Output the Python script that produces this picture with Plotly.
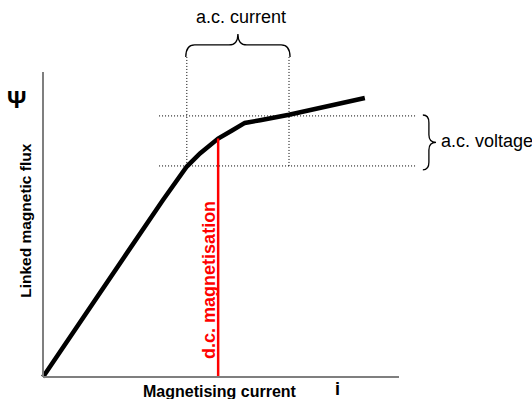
import plotly.graph_objects as go

# Magnetisation curve: linked flux psi versus magnetising current i
current = [0.0, 1.32, 2.36, 3.37, 3.75, 4.04, 4.41, 4.92, 5.31, 5.67, 6.10, 6.91, 9.04]
flux = [0.0, 2.30, 4.07, 5.80, 6.40, 6.90, 7.33, 7.82, 8.08, 8.33, 8.42, 8.60, 9.15]

# Operating point and a.c. swing
i_dc, psi_dc = 4.92, 7.82
i_ac = [4.04, 6.91]
psi_ac = [6.92, 8.56]

axis_len = [10.0, 10.0]  # drawn length of the i and psi axes

FONT = "Arial, Liberation Sans, sans-serif"
GREY = "#7f7f7f"

fig = go.Figure()

# saturation curve
fig.add_trace(go.Scatter(x=current, y=flux, mode="lines",
                         line=dict(color="black", width=4.5),
                         hoverinfo="skip", showlegend=False))

# d.c. magnetisation line
fig.add_trace(go.Scatter(x=[i_dc, i_dc], y=[0, psi_dc], mode="lines",
                         line=dict(color="#ff0000", width=2.5),
                         hoverinfo="skip", showlegend=False))

shapes = []
# axes
shapes.append(dict(type="line", x0=0, y0=0, x1=axis_len[0], y1=0,
                   line=dict(color=GREY, width=2)))
shapes.append(dict(type="line", x0=0, y0=0, x1=0, y1=axis_len[1],
                   line=dict(color=GREY, width=2)))

# dotted guides
dot = dict(color="black", width=1, dash="1px,2px")
for p in psi_ac:
    shapes.append(dict(type="line", x0=3.26, y0=p, x1=10.48, y1=p, line=dot))
for c in i_ac:
    shapes.append(dict(type="line", x0=c, y0=psi_ac[0], x1=c, y1=10.49, line=dot))


def hbrace(x0, x1, base, arm, tip, r):
    m = (x0 + x1) / 2
    return (f"M {x0},{base} Q {x0},{arm} {x0 + r},{arm} L {m - r},{arm} "
            f"Q {m},{arm} {m},{tip} Q {m},{arm} {m + r},{arm} "
            f"L {x1 - r},{arm} Q {x1},{arm} {x1},{base}")


def vbrace(y0, y1, base, arm, tip, r):
    m = (y0 + y1) / 2
    return (f"M {base},{y1} Q {arm},{y1} {arm},{y1 - r} L {arm},{m + r} "
            f"Q {arm},{m} {tip},{m} Q {arm},{m} {arm},{m - r} "
            f"L {arm},{y0 + r} Q {arm},{y0} {base},{y0}")


brace_line = dict(color="black", width=1.3)
shapes.append(dict(type="path", path=hbrace(i_ac[0] - 0.03, i_ac[1] + 0.03,
                                             10.49, 10.89, 11.25, 0.25),
                   line=brace_line))
shapes.append(dict(type="path", path=vbrace(psi_ac[0] - 0.13, psi_ac[1] + 0.03,
                                             10.67, 10.84, 11.04, 0.25),
                   line=brace_line))

annotations = [
    dict(x=5.56, y=11.80, text="a.c. current", showarrow=False,
         font=dict(family=FONT, size=18, color="black"),
         xanchor="center", yanchor="middle"),
    dict(x=11.12, y=7.74, text="a.c. voltage", showarrow=False,
         font=dict(family=FONT, size=18, color="black"),
         xanchor="left", yanchor="middle"),
    dict(x=4.66, y=3.18, text="<b>d.c. magnetisation</b>", showarrow=False,
         textangle=-90, font=dict(family=FONT, size=18, color="#ff0000"),
         xanchor="center", yanchor="middle"),
    dict(x=-0.74, y=9.10, text="<b>Ψ</b>", showarrow=False,
         font=dict(family=FONT, size=24, color="black"),
         xanchor="center", yanchor="middle"),
    dict(x=-0.48, y=5.15, text="<b>Linked magnetic flux</b>", showarrow=False,
         textangle=-90, font=dict(family=FONT, size=15.5, color="black"),
         xanchor="center", yanchor="middle"),
    dict(x=4.97, y=-0.46, text="<b>Magnetising current</b>", showarrow=False,
         font=dict(family=FONT, size=16, color="black"),
         xanchor="center", yanchor="middle"),
    dict(x=8.26, y=-0.40, text="<b>i</b>", showarrow=False,
         font=dict(family=FONT, size=18, color="black"),
         xanchor="center", yanchor="middle"),
]

fig.update_layout(
    width=532, height=399,
    margin=dict(l=0, r=0, t=0, b=0),
    paper_bgcolor="white", plot_bgcolor="white",
    shapes=shapes, annotations=annotations,
    xaxis=dict(range=[-43 / 35.6, 489 / 35.6], visible=False, fixedrange=True),
    yaxis=dict(range=[-22 / 30.5, 377 / 30.5], visible=False, fixedrange=True),
    showlegend=False,
)

fig.write_html("out.html", config={"displayModeBar": False})
